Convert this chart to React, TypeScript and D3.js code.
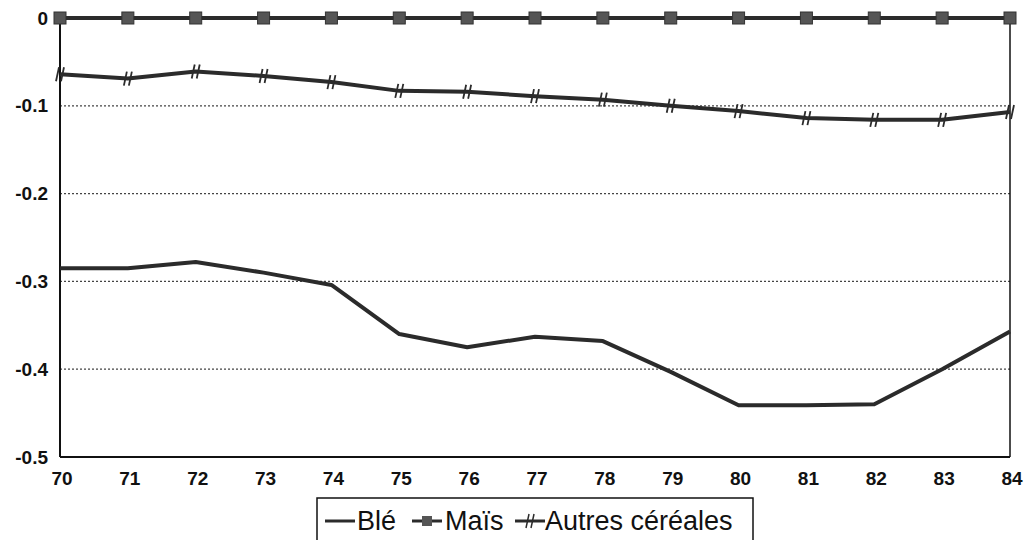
import React, { useEffect, useRef } from "react";
import * as d3 from "d3";

const years = [70, 71, 72, 73, 74, 75, 76, 77, 78, 79, 80, 81, 82, 83, 84];
const ble = [-0.285, -0.285, -0.278, -0.29, -0.304, -0.36, -0.375, -0.363, -0.368, -0.403, -0.441, -0.441, -0.44, -0.4, -0.357];
const mais = [0, 0, 0, 0, 0, 0, 0, 0, 0, 0, 0, 0, 0, 0, 0];
const autres = [-0.064, -0.069, -0.061, -0.066, -0.073, -0.083, -0.084, -0.089, -0.093, -0.1, -0.106, -0.114, -0.116, -0.116, -0.107];
const yTicks = [0, -0.1, -0.2, -0.3, -0.4, -0.5];
const legendLabels = ["Blé", "Maïs", "Autres céréales"];

const W = 1031;
const H = 540;

const App = () => {
  const ref = useRef(null);

  useEffect(() => {
    const svg = d3.select(ref.current);
    svg.selectAll("*").remove();

    const margin = { top: 18, right: 21, bottom: 83, left: 60 };
    const x = d3
      .scaleLinear()
      .domain([years[0], years[years.length - 1]])
      .range([margin.left, W - margin.right]);
    const y = d3
      .scaleLinear()
      .domain([-0.5, 0])
      .range([H - margin.bottom, margin.top]);

    const ink = "#2b2b2b";
    const font = "Liberation Sans, Arial, sans-serif";

    // dotted gridlines
    svg
      .append("g")
      .selectAll("line")
      .data(yTicks.filter((t) => t !== 0 && t !== -0.5))
      .enter()
      .append("line")
      .attr("x1", x(70))
      .attr("x2", x(84))
      .attr("y1", (d) => y(d))
      .attr("y2", (d) => y(d))
      .attr("stroke", "#444")
      .attr("stroke-width", 1.3)
      .attr("stroke-dasharray", "2,2");

    // frame: left, bottom, right
    const frame = svg.append("g").attr("stroke", "#111").attr("stroke-width", 2);
    frame.append("line").attr("x1", x(70)).attr("x2", x(70)).attr("y1", y(0)).attr("y2", y(-0.5));
    frame.append("line").attr("x1", x(70)).attr("x2", x(84)).attr("y1", y(-0.5)).attr("y2", y(-0.5));
    frame.append("line").attr("x1", x(84)).attr("x2", x(84)).attr("y1", y(0)).attr("y2", y(-0.5)).attr("stroke-width", 1.5);

    // y tick labels
    svg
      .append("g")
      .selectAll("text")
      .data(yTicks)
      .enter()
      .append("text")
      .attr("x", x(70) - 12)
      .attr("y", (d) => y(d))
      .attr("dy", "0.35em")
      .attr("text-anchor", "end")
      .attr("font-family", font)
      .attr("font-weight", "bold")
      .attr("font-size", 19)
      .attr("fill", "#111")
      .text((d) => (d === 0 ? "0" : d3.format(".1f")(d).replace("−", "-")));

    // x tick labels
    svg
      .append("g")
      .selectAll("text")
      .data(years)
      .enter()
      .append("text")
      .attr("x", (d) => x(d) + 2)
      .attr("y", y(-0.5) + 21)
      .attr("dy", "0.35em")
      .attr("text-anchor", "middle")
      .attr("font-family", font)
      .attr("font-weight", "bold")
      .attr("font-size", 19)
      .attr("fill", "#111")
      .text((d) => d);

    const line = d3
      .line<number>()
      .x((_, i) => x(years[i]))
      .y((d) => y(d));

    // Blé
    svg.append("path").datum(ble).attr("d", line).attr("fill", "none").attr("stroke", ink).attr("stroke-width", 4).attr("stroke-linejoin", "round");

    // Autres céréales
    svg.append("path").datum(autres).attr("d", line).attr("fill", "none").attr("stroke", ink).attr("stroke-width", 4).attr("stroke-linejoin", "round");
    const cross = (g, cx, cy) => {
      g.append("line").attr("x1", cx - 4).attr("x2", cx - 1).attr("y1", cy + 7).attr("y2", cy - 7);
      g.append("line").attr("x1", cx + 1).attr("x2", cx + 4).attr("y1", cy + 7).attr("y2", cy - 7);
    };
    const crosses = svg.append("g").attr("stroke", ink).attr("stroke-width", 1.8);
    autres.forEach((v, i) => cross(crosses, x(years[i]), y(v)));

    // Maïs
    svg.append("path").datum(mais).attr("d", line).attr("fill", "none").attr("stroke", ink).attr("stroke-width", 4);
    svg
      .append("g")
      .selectAll("rect")
      .data(mais)
      .enter()
      .append("rect")
      .attr("x", (_, i) => x(years[i]) - 6)
      .attr("y", (d) => y(d) - 6)
      .attr("width", 12)
      .attr("height", 12)
      .attr("fill", "#555")
      .attr("stroke", "#333")
      .attr("stroke-width", 1);

    // legend
    const lg = svg.append("g");
    lg.append("rect")
      .attr("x", 317)
      .attr("y", 498)
      .attr("width", 436)
      .attr("height", 60)
      .attr("fill", "white")
      .attr("stroke", "#111")
      .attr("stroke-width", 1.5);
    const ly = 521;
    const items = [
      { label: legendLabels[0], sx: 325, tx: 357, mark: "none" },
      { label: legendLabels[1], sx: 412, tx: 445, mark: "square" },
      { label: legendLabels[2], sx: 515, tx: 545, mark: "cross" },
    ];
    items.forEach((it) => {
      lg.append("line").attr("x1", it.sx).attr("x2", it.sx + 30).attr("y1", ly).attr("y2", ly).attr("stroke", ink).attr("stroke-width", 3);
      if (it.mark === "square") {
        lg.append("rect").attr("x", it.sx + 10).attr("y", ly - 5).attr("width", 10).attr("height", 10).attr("fill", "#555");
      }
      if (it.mark === "cross") {
        const cg = lg.append("g").attr("stroke", ink).attr("stroke-width", 1.5);
        cross(cg, it.sx + 15, ly);
      }
      lg.append("text")
        .attr("x", it.tx)
        .attr("y", ly)
        .attr("dy", "0.35em")
        .attr("font-family", font)
        .attr("font-size", 27)
        .attr("fill", "#111")
        .text(it.label);
    });
  }, []);

  return (
    <svg
      ref={ref}
      width={W}
      height={H}
      style={{ position: "absolute", left: 0, top: 0, background: "white" }}
    />
  );
};

export default App;
